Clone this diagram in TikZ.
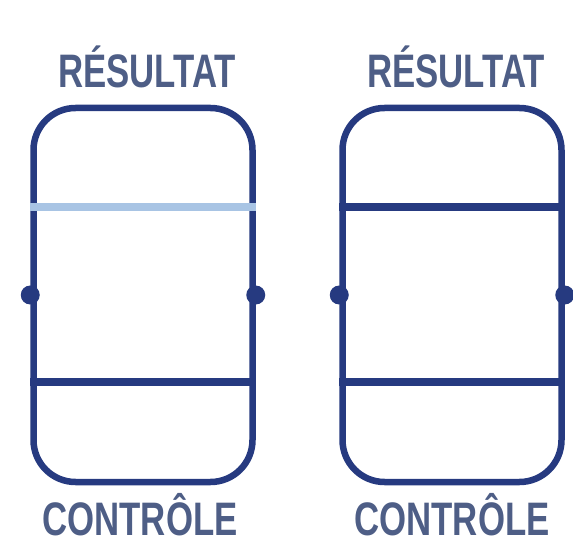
\documentclass[tikz,border=0pt]{standalone}
\usepackage{fontspec}
\setmainfont{Liberation Sans}[FakeStretch=0.74]
\usepackage{xcolor}
\usetikzlibrary{positioning}
\definecolor{tubeblue}{RGB}{38,58,128}
\definecolor{labelblue}{RGB}{78,94,134}
\definecolor{faintblue}{RGB}{168,196,228}

\begin{document}
\begin{tikzpicture}[x=1pt, y=-1pt,
  tube/.style={draw=tubeblue,line width=6.5pt,rounded corners=42pt,minimum width=219pt,minimum height=374pt,inner sep=0pt},
  band/.style={line width=8pt,draw=tubeblue},
  faint/.style={line width=8pt,draw=faintblue},
  pin/.style={circle,fill=tubeblue,minimum size=19pt,inner sep=0pt},
  label/.style={text=labelblue,font=\fontsize{47}{47}\selectfont\bfseries,inner sep=0pt}]
  \useasboundingbox (0,0) rectangle (573,545);
  \node[tube] (left) at (143,295) {};
  \node[tube] (right) at (452,295) {};
  % result zone and control zone
  \draw[faint] (left.west |- 0,207) -- (left.east |- 0,207);
  \draw[band] (left.west |- 0,382) -- (left.east |- 0,382);
  \draw[band] (right.west |- 0,207) -- (right.east |- 0,207);
  \draw[band] (right.west |- 0,382) -- (right.east |- 0,382);
  \node[pin] at (left.west) {};
  \node[pin] at (left.east) {};
  \node[pin] at (right.west) {};
  \node[pin] at (right.east) {};
  \node[label,anchor=base] (resl) at (147,88) {RÉSULTAT};
  \node[label,anchor=base] (resr) at (456,88) {RÉSULTAT};
  \node[label,anchor=base] (ctrl) at (140,535) {CONTRÔLE};
  \node[label,anchor=base] (ctrr) at (452,535) {CONTRÔLE};
\end{tikzpicture}
\end{document}
